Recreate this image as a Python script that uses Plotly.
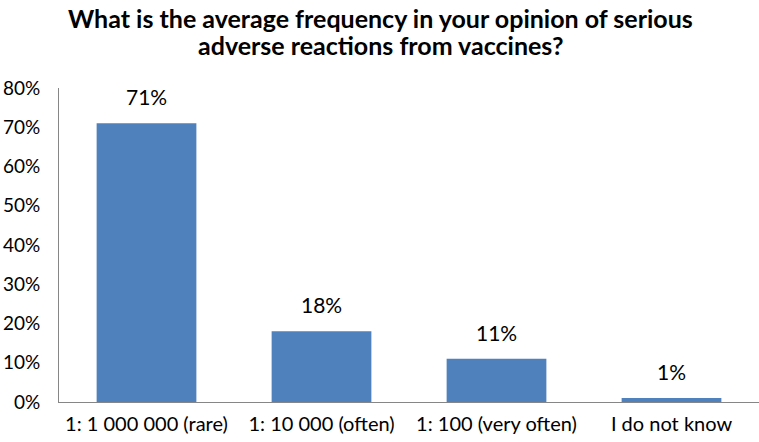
import plotly.graph_objects as go

categories = ["1: 1 000 000 (rare)", "1: 10 000 (often)", "1: 100 (very often)", "I do not know"]
values = [0.71, 0.18, 0.11, 0.01]
labels = ["71%", "18%", "11%", "1%"]
y_ticks = [0, 0.1, 0.2, 0.3, 0.4, 0.5, 0.6, 0.7, 0.8]
y_tick_text = ["0%", "10%", "20%", "30%", "40%", "50%", "60%", "70%", "80%"]
title_lines = [
    "What is the average frequency in your opinion of serious",
    "adverse reactions from vaccines?",
]

font_family = "Lato, 'Open Sans', sans-serif"

fig = go.Figure()
fig.add_trace(go.Bar(
    x=categories,
    y=values,
    marker=dict(color="#4F81BD", line=dict(width=0)),
    width=0.57,
))

# value labels above the bars
for cat, val, lab in zip(categories, values, labels):
    fig.add_annotation(
        x=cat, y=val, text=lab,
        xref="x", yref="y",
        yanchor="bottom", yshift=12,
        showarrow=False,
        font=dict(size=21, color="#000000", family=font_family),
    )

fig.update_layout(
    width=759,
    height=442,
    margin=dict(l=59, r=0, t=88, b=40),
    plot_bgcolor="white",
    paper_bgcolor="white",
    showlegend=False,
    font=dict(family=font_family, color="#000000"),
)

# two-line bold title drawn as annotations
for i, line in enumerate(title_lines):
    fig.add_annotation(
        text="<b>" + line + "</b>",
        xref="paper", yref="paper",
        x=(380 - 59) / 700, y=1 + (70 - i * 27) / 314,
        xanchor="center", yanchor="middle",
        showarrow=False,
        font=dict(size=25, color="#000000", family=font_family),
    )

fig.update_yaxes(
    range=[0, 0.8],
    tickvals=y_ticks,
    ticktext=y_tick_text,
    showgrid=False,
    zeroline=False,
    showline=True,
    linecolor="#868686",
    linewidth=1,
    ticks="",
    tickfont=dict(size=19, color="#000000"),
    ticklabelstandoff=14,
)
fig.update_xaxes(
    showgrid=False,
    showline=True,
    linecolor="#868686",
    linewidth=1,
    ticks="",
    tickfont=dict(size=20, color="#000000"),
    ticklabelstandoff=4,
)

fig.write_html("out.html", config={"displayModeBar": False},
               post_script="document.body.style.margin='0';")
